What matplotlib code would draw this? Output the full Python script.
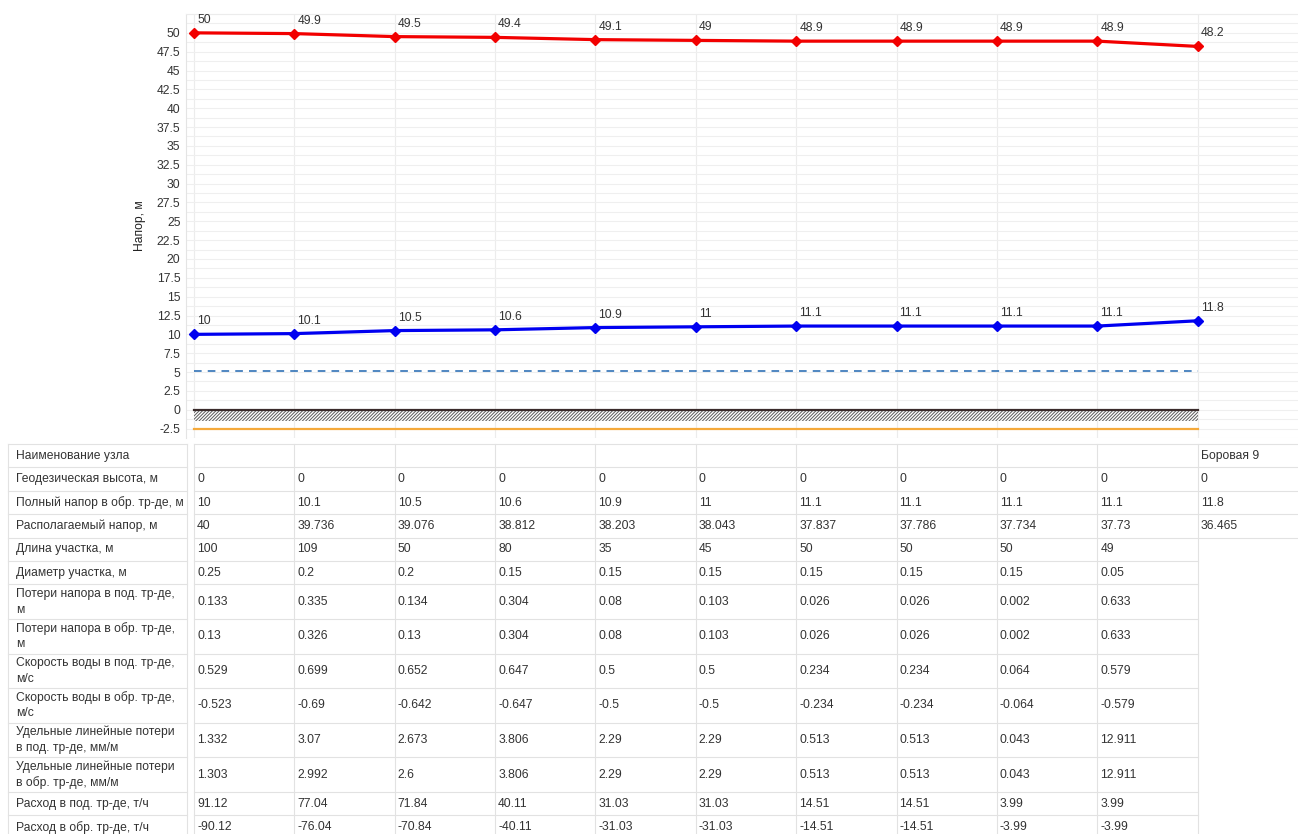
import matplotlib
matplotlib.use("Agg")
import matplotlib.pyplot as plt
import numpy as np

plt.rcParams['font.family'] = ['Liberation Sans', 'DejaVu Sans']
plt.rcParams['hatch.linewidth'] = 0.7

# напоры по узлам
supply_head = [50, 49.9, 49.5, 49.4, 49.1, 49, 48.9, 48.9, 48.9, 48.9, 48.2]
return_head = [10, 10.1, 10.5, 10.6, 10.9, 11, 11.1, 11.1, 11.1, 11.1, 11.8]
static_head = 5.2
ground_level = 0
ground_depth = -1.5
pipe_level = -2.5

# таблица под графиком
row_labels = [
    "Наименование узла",
    "Геодезическая высота, м",
    "Полный напор в обр. тр-де, м",
    "Располагаемый напор, м",
    "Длина участка, м",
    "Диаметр участка, м",
    "Потери напора в под. тр-де,\nм",
    "Потери напора в обр. тр-де,\nм",
    "Скорость воды в под. тр-де,\nм/с",
    "Скорость воды в обр. тр-де,\nм/с",
    "Удельные линейные потери\nв под. тр-де, мм/м",
    "Удельные линейные потери\nв обр. тр-де, мм/м",
    "Расход в под. тр-де, т/ч",
    "Расход в обр. тр-де, т/ч",
]
node_names = ["", "", "", "", "", "", "", "", "", "", "Боровая 9"]
geo_height = [0, 0, 0, 0, 0, 0, 0, 0, 0, 0, 0]
avail_head = [40, 39.736, 39.076, 38.812, 38.203, 38.043, 37.837, 37.786, 37.734, 37.73, 36.465]
seg_length = [100, 109, 50, 80, 35, 45, 50, 50, 50, 49]
seg_diam = [0.25, 0.2, 0.2, 0.15, 0.15, 0.15, 0.15, 0.15, 0.15, 0.05]
loss_sup = [0.133, 0.335, 0.134, 0.304, 0.08, 0.103, 0.026, 0.026, 0.002, 0.633]
loss_ret = [0.13, 0.326, 0.13, 0.304, 0.08, 0.103, 0.026, 0.026, 0.002, 0.633]
vel_sup = [0.529, 0.699, 0.652, 0.647, 0.5, 0.5, 0.234, 0.234, 0.064, 0.579]
vel_ret = [-0.523, -0.69, -0.642, -0.647, -0.5, -0.5, -0.234, -0.234, -0.064, -0.579]
spec_sup = [1.332, 3.07, 2.673, 3.806, 2.29, 2.29, 0.513, 0.513, 0.043, 12.911]
spec_ret = [1.303, 2.992, 2.6, 3.806, 2.29, 2.29, 0.513, 0.513, 0.043, 12.911]
flow_sup = [91.12, 77.04, 71.84, 40.11, 31.03, 31.03, 14.51, 14.51, 3.99, 3.99]
flow_ret = [-90.12, -76.04, -70.84, -40.11, -31.03, -31.03, -14.51, -14.51, -3.99, -3.99]

W, H = 1298, 834
fs = 8.7
txt = '#333333'
fig = plt.figure(figsize=(W / 100, H / 100), dpi=100)

ax = fig.add_axes([186 / W, 1 - 438 / H, 1112 / W, 424 / H])
ax.patch.set_alpha(0)
nodes = np.arange(len(supply_head))

ax.set_xlim(-0.08, 11.0)
ax.set_ylim(-3.75, 52.5)
yt = np.arange(-2.5, 50.1, 2.5)
ax.set_yticks(yt)
ax.set_yticklabels([f"{v:g}" for v in yt])
ax.set_yticks(np.arange(-3.75, 52.6, 1.25), minor=True)
ax.set_xticks(nodes)
ax.set_xticklabels([])
ax.tick_params(which='both', length=0, labelsize=fs, labelcolor=txt, pad=4)
ax.grid(which='both', axis='y', color='#efefef', lw=0.8)
ax.grid(which='major', axis='x', color='#ececec', lw=0.8)
ax.set_axisbelow(True)
for s in ['right', 'bottom']:
    ax.spines[s].set_visible(False)
ax.spines['left'].set_color('#e4e4e4')
ax.spines['top'].set_color('#ececec')

ax.set_ylabel("Напор, м", fontsize=fs, color='#222222')
ax.yaxis.set_label_coords(-0.036, 0.5)

# грунт, трубопровод и статический напор
ends = [nodes[0], nodes[-1]]
ax.fill_between(ends, ground_depth, ground_level, facecolor='white',
                edgecolor='#5a5a5a', hatch='//////////', lw=0, zorder=2)
ax.plot(ends, [ground_level] * 2, color='#3b2c2c', lw=1.6, zorder=3)
ax.plot(ends, [pipe_level] * 2, color='#f5a93a', lw=1.6, zorder=3)
ax.plot(ends, [static_head] * 2, color='#1f66b0', lw=1.1,
        dashes=(5, 4), zorder=3)

ax.plot(nodes, supply_head, color='#f20000', lw=2.3, marker='D', ms=5,
        mec='#f20000', zorder=4)
ax.plot(nodes, return_head, color='#0000f0', lw=2.3, marker='D', ms=5,
        mec='#0000f0', zorder=4)
for x, v in zip(nodes, supply_head):
    ax.annotate(f"{v:g}", (x, v), xytext=(3, 7), textcoords='offset pixels',
                fontsize=fs, color=txt, ha='left', va='bottom')
for x, v in zip(nodes, return_head):
    ax.annotate(f"{v:g}", (x, v), xytext=(3, 7), textcoords='offset pixels',
                fontsize=fs, color=txt, ha='left', va='bottom')

# таблица
tab = fig.add_axes([0, 0, 1, 1], zorder=-5)
tab.set_xlim(0, W)
tab.set_ylim(H, 0)
tab.axis('off')

col_x = [ax.transData.transform((n, 0))[0] for n in nodes]
rows = [node_names, geo_height, return_head, avail_head, seg_length, seg_diam,
        loss_sup, loss_ret, vel_sup, vel_ret, spec_sup, spec_ret, flow_sup, flow_ret]
row_h = [23.4] * 6 + [34.6] * 6 + [23.4] * 2
tops = 444 + np.concatenate([[0], np.cumsum(row_h)])

border = '#e2e2e2'
lab_l, lab_r = 8, 187
for r in range(len(rows) + 1):
    y = tops[r]
    tab.plot([lab_l, lab_r], [y, y], color=border, lw=0.8)
    wide = any(len(rows[k]) == len(nodes) for k in (r - 1, r) if 0 <= k < len(rows))
    tab.plot([col_x[0], W if wide else col_x[-1]], [y, y], color=border, lw=0.8)
for x in [lab_l, lab_r] + col_x:
    tab.plot([x, x], [tops[0], H + 10], color=border, lw=0.8)

for r, (label, vals) in enumerate(zip(row_labels, rows)):
    yc = (tops[r] + tops[r + 1]) / 2
    lines = label.split("\n")
    if len(lines) == 1:
        tab.text(16, yc, label, fontsize=fs, color=txt, va='center')
    else:
        tab.text(16, yc - 8, lines[0], fontsize=fs, color=txt, va='center')
        tab.text(16, yc + 8, lines[1], fontsize=fs, color=txt, va='center')
    for i, v in enumerate(vals):
        s = v if isinstance(v, str) else f"{v:g}"
        tab.text(col_x[i] + 3, yc, s, fontsize=fs, color=txt, va='center')

fig.savefig("out.png", dpi=100)
